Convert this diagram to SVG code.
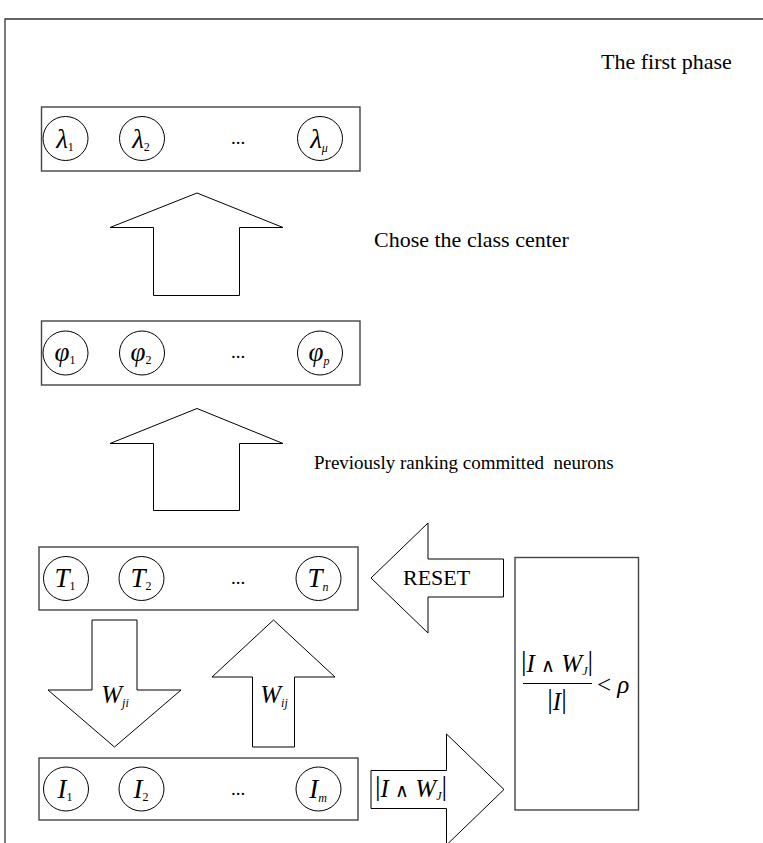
<svg xmlns="http://www.w3.org/2000/svg" width="763" height="843" viewBox="0 0 763 843">
<style>
.frame{stroke:#333;stroke-width:1.3;fill:none}
.box{fill:#fff;stroke:#444;stroke-width:1.4}
.node{fill:#fff;stroke:#000;stroke-width:1}
.arrow{fill:#fff;stroke:#000;stroke-width:1;stroke-linejoin:miter}
.t{font-family:"Liberation Serif","Times New Roman",serif;fill:#000;font-size:22px}
.m{font-family:"Liberation Serif","Times New Roman",serif;font-style:italic;font-size:25px;fill:#000;text-anchor:middle}
.c{font-size:27px}
.sub{font-size:12px}
.up{font-style:normal}
.and{font-style:normal;font-size:19px}
.bar{font-style:normal;font-size:28px}
.dots{font-family:"Liberation Serif",serif;font-size:19px;text-anchor:middle;fill:#000}
</style>
<rect width="763" height="843" fill="#fff"/>
<path class="frame" d="M5,843 V19 H763"/>
<text class="t" x="601" y="69">The first phase</text>
<g id="layer-lambda">
<rect class="box" x="41.5" y="107" width="318.5" height="64"/>
<ellipse class="node" cx="65.5" cy="138.5" rx="22.5" ry="22"/>
<ellipse class="node" cx="142" cy="138.5" rx="22.5" ry="22"/>
<ellipse class="node" cx="320" cy="138.5" rx="22.5" ry="22"/>
<text class="m c" x="65" y="148">λ<tspan class="sub up" dy="3">1</tspan></text>
<text class="m c" x="141" y="148">λ<tspan class="sub up" dy="3">2</tspan></text>
<text class="dots" x="238" y="144">...</text>
<text class="m c" x="319" y="148">λ<tspan class="sub" dy="4">μ</tspan></text>
</g>
<g id="layer-phi">
<rect class="box" x="41.5" y="321" width="318.5" height="64"/>
<ellipse class="node" cx="65.5" cy="353" rx="22.5" ry="22"/>
<ellipse class="node" cx="142" cy="353" rx="22.5" ry="22"/>
<ellipse class="node" cx="320" cy="353" rx="22.5" ry="22"/>
<text class="m c" x="65" y="361">φ<tspan class="sub up" dy="3">1</tspan></text>
<text class="m c" x="141" y="361">φ<tspan class="sub up" dy="3">2</tspan></text>
<text class="dots" x="238" y="358">...</text>
<text class="m c" x="319" y="361">φ<tspan class="sub" dy="4">p</tspan></text>
</g>
<g id="layer-T">
<rect class="box" x="39" y="547" width="319" height="63"/>
<ellipse class="node" cx="66" cy="578.5" rx="22.5" ry="22"/>
<ellipse class="node" cx="141.5" cy="578.5" rx="22.5" ry="22"/>
<ellipse class="node" cx="318.5" cy="578.5" rx="22.5" ry="22"/>
<text class="m c" x="65" y="587">T<tspan class="sub up" dy="3">1</tspan></text>
<text class="m c" x="141" y="587">T<tspan class="sub up" dy="3">2</tspan></text>
<text class="dots" x="238" y="584">...</text>
<text class="m c" x="318" y="587">T<tspan class="sub" dy="4">n</tspan></text>
</g>
<g id="layer-I">
<rect class="box" x="39" y="758" width="319" height="62"/>
<ellipse class="node" cx="66" cy="789" rx="22.5" ry="22"/>
<ellipse class="node" cx="141.5" cy="789" rx="22.5" ry="22"/>
<ellipse class="node" cx="318.5" cy="789" rx="22.5" ry="22"/>
<text class="m c" x="65" y="798">I<tspan class="sub up" dy="3">1</tspan></text>
<text class="m c" x="141" y="798">I<tspan class="sub up" dy="3">2</tspan></text>
<text class="dots" x="238" y="795">...</text>
<text class="m c" x="318" y="798">I<tspan class="sub" dy="4">m</tspan></text>
</g>
<g id="vigilance">
<rect class="box" x="515" y="557.5" width="123.5" height="252.5"/>
<text class="m" x="557" y="672"><tspan class="bar" dy="-2">|</tspan><tspan dy="2">I </tspan><tspan class="and">∧</tspan> W<tspan class="sub" dy="3">J</tspan><tspan class="bar" dy="-5">|</tspan></text>
<line x1="523" y1="683.5" x2="592" y2="683.5" stroke="#000" stroke-width="1"/>
<text class="m" x="557" y="710"><tspan class="bar" dy="-2">|</tspan><tspan dy="2">I</tspan><tspan class="bar" dy="-2">|</tspan></text>
<text class="m" x="597" y="693" style="text-anchor:start"><tspan class="up">&lt;</tspan> ρ</text>
</g>
<g id="connectors">
<polygon class="arrow" points="197,193 283,227.5 239.5,227.5 239.5,295.5 153.5,295.5 153.5,227.5 110,227.5"/>
<polygon class="arrow" points="197,408.5 283,443.5 239.5,443.5 239.5,510.5 153.5,510.5 153.5,443.5 110,443.5"/>
<polygon class="arrow" points="92,620 137,620 137,690 181,690 114.5,747 48,690 92,690"/>
<polygon class="arrow" points="273.5,620 335,677 294.5,677 294.5,747 252.5,747 252.5,677 212,677"/>
<polygon class="arrow" points="371,578 428,523 428,559 503.5,559 503.5,597 428,597 428,633"/>
<polygon class="arrow" points="371,770.5 446.5,770.5 446.5,734 504,789.5 446.5,845 446.5,808.5 371,808.5"/>
<text class="m" x="115" y="703">W<tspan class="sub" dy="4">ji</tspan></text>
<text class="m" x="274" y="703">W<tspan class="sub" dy="4">ij</tspan></text>
<text class="t" x="403" y="585">RESET</text>
<text class="m" x="411" y="797"><tspan class="bar" dy="-2">|</tspan><tspan dy="2">I </tspan><tspan class="and">∧</tspan> W<tspan class="sub" dy="3">J</tspan><tspan class="bar" dy="-5">|</tspan></text>
<text class="t" x="374" y="247">Chose the class center</text>
<text class="t" x="314" y="469" style="font-size:19px" xml:space="preserve">Previously ranking committed  neurons</text>
</g>
</svg>
